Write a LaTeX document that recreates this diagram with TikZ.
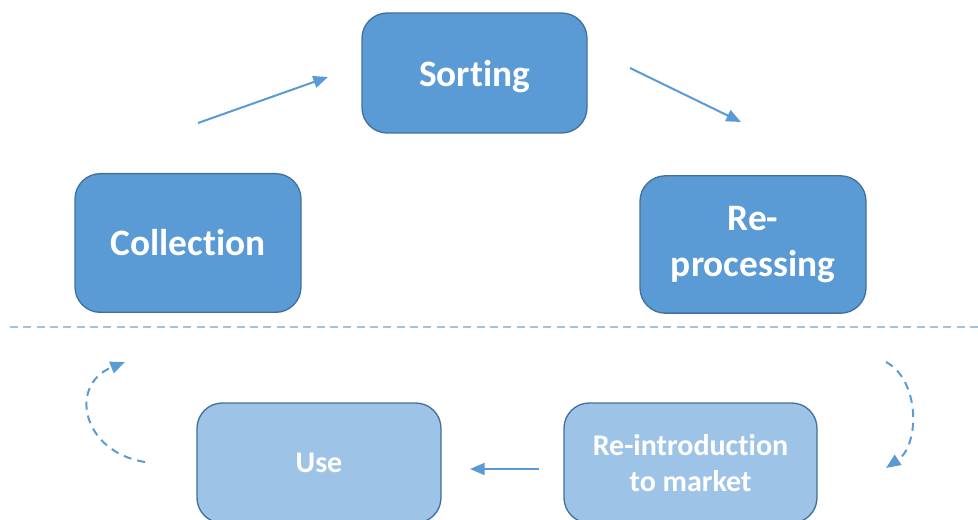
\documentclass[tikz,border=0pt]{standalone}
\usepackage{fontspec}
\setmainfont{Carlito}[Ligatures=NoCommon]
\usetikzlibrary{arrows.meta}
\definecolor{boxblue}{HTML}{5B9BD5}
\definecolor{paleblue}{HTML}{9DC3E6}
\definecolor{edgeblue}{HTML}{41719C}

\begin{document}
\begin{tikzpicture}[x=0.75pt,y=-0.75pt,
    stage/.style={draw=edgeblue, line width=1pt, rounded corners=19pt, fill=boxblue,
      text=white, align=center, inner sep=0pt,
      font=\fontsize{28}{34}\selectfont\bfseries},
    later/.style={stage, fill=paleblue, font=\fontsize{22.5}{27.5}\selectfont\bfseries},
    flow/.style={boxblue, line width=1.5pt, -{Triangle[length=11pt,width=9pt]}},
    backflow/.style={flow, dash pattern=on 6pt off 4.5pt}]
      \useasboundingbox (0,0) rectangle (978,520);
      \clip (0,0) rectangle (978,520);
          %% upper row: the three process steps
      \node (sort) at (474.5,73) [stage, text depth=0pt, minimum width=168.75pt, minimum height=90pt] {Sorting};
      \node (coll) at (188,243) [stage, minimum width=169.5pt, minimum height=104pt] {Collection};
      \node (repr) at (753,244.5) [stage, minimum width=169.5pt, minimum height=103pt] {Re-\\processing};
          %% lower row, below the divider
      \node (use) at (319,463) [later, minimum width=183pt, minimum height=90pt] {Use};
      \node (mkt) at (690.5,463) [later, minimum width=189.75pt, minimum height=90pt] {Re-introduction\\to market};
      \coordinate (divl) at (10,327);
      \coordinate (divr) at (978,327);
      \draw[paleblue, line width=1pt, dash pattern=on 6pt off 4pt] (divl) -- (divr);
          %% free arrow ends
      \coordinate (c1) at (198,123);  \coordinate (s1) at (328,77);
      \coordinate (s2) at (630,68);   \coordinate (r2) at (741,122);
      \coordinate (m3) at (539,469);  \coordinate (u3) at (470,469);
      \coordinate (r4) at (886,362);  \coordinate (m4) at (886,468);
      \coordinate (u5) at (145,462);  \coordinate (c5) at (125,362);
      \draw[flow] (c1) -- (s1);
      \draw[flow] (s2) -- (r2);
      \draw[flow] (m3) -- (u3);
      \draw[backflow] (r4) .. controls (920,380) and (920,445) .. (m4);
      \draw[backflow] (u5) .. controls (82,452) and (68,385) .. (c5);
\end{tikzpicture}
\end{document}
